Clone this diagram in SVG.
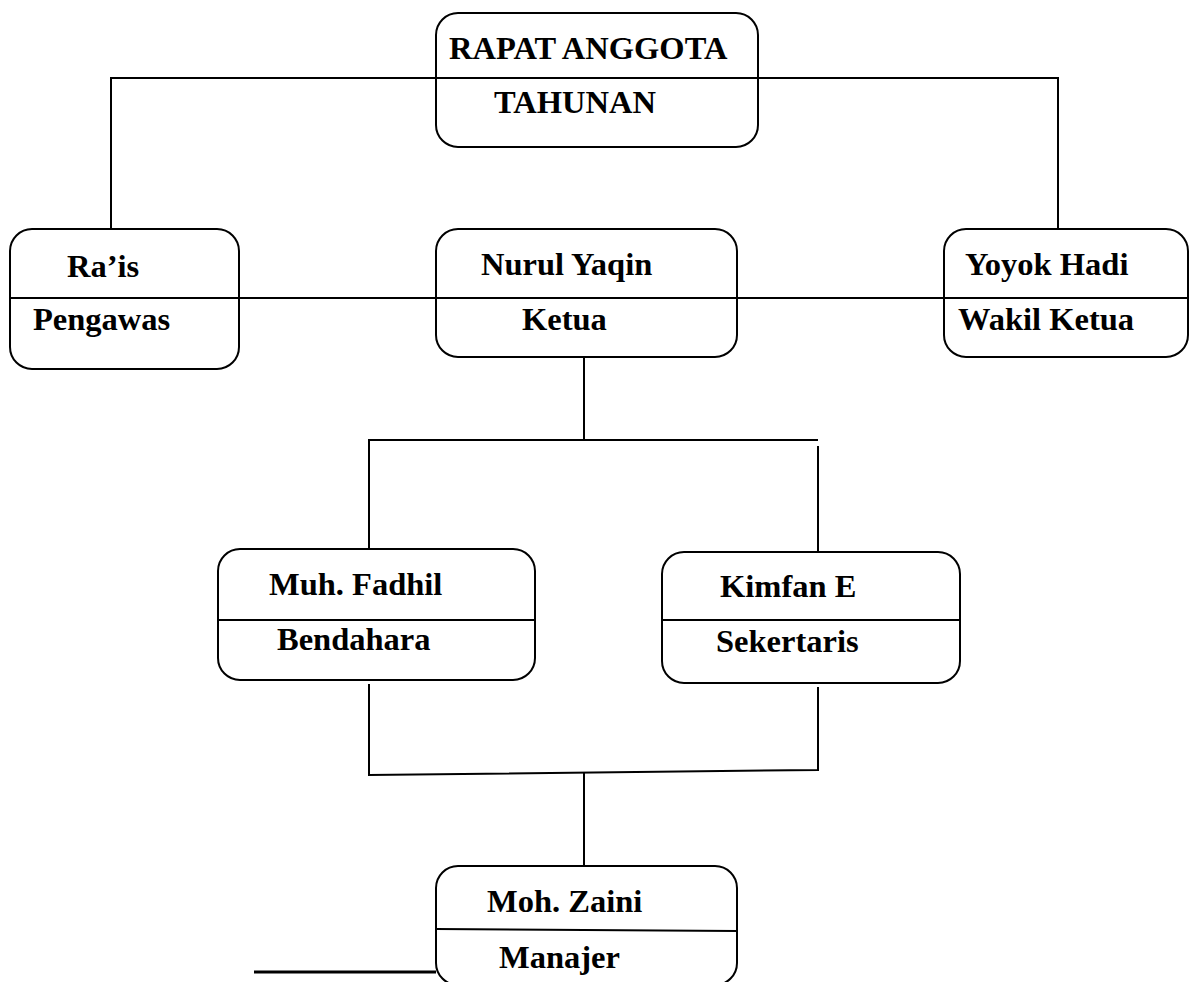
<svg xmlns="http://www.w3.org/2000/svg" width="1189" height="982" viewBox="0 0 1189 982">
<style>
.box{fill:#fff;stroke:#000;stroke-width:2}
.div{stroke:#000;stroke-width:2}
.con{stroke:#000;stroke-width:2;fill:none}
text{font-family:"Liberation Serif","Times New Roman",serif;font-weight:bold;font-size:32.5px;fill:#000}
</style>
<rect width="1189" height="982" fill="#fff"/>
<g id="connectors">
<polyline class="con" points="111,229 111,78 436,78"/>
<polyline class="con" points="758,78 1058,78 1058,229"/>
<line class="con" x1="239" y1="298" x2="436" y2="298"/>
<line class="con" x1="737" y1="298" x2="944" y2="298"/>
<line class="con" x1="584" y1="357" x2="584" y2="440"/>
<polyline class="con" points="369,549 369,440 818,440"/>
<line class="con" x1="818" y1="446" x2="818" y2="552"/>
<polyline class="con" points="369,684 369,775 818,770 818,687"/>
<line class="con" x1="584" y1="772" x2="584" y2="866"/>
<line x1="254" y1="972" x2="436" y2="972" stroke="#000" stroke-width="3"/>
</g>
<g id="rat">
<rect class="box" x="436" y="13" width="322" height="134" rx="22"/>
<line class="div" x1="436" y1="78" x2="758" y2="78"/>
<text x="449" y="59">RAPAT ANGGOTA</text>
<text x="494" y="113">TAHUNAN</text>
</g>
<g id="rais">
<rect class="box" x="10" y="229" width="229" height="140" rx="22"/>
<line class="div" x1="10" y1="298" x2="239" y2="298"/>
<text x="67" y="277">Ra’is</text>
<text x="33" y="330">Pengawas</text>
</g>
<g id="nurul">
<rect class="box" x="436" y="229" width="301" height="128" rx="22"/>
<line class="div" x1="436" y1="298" x2="737" y2="298"/>
<text x="481" y="275">Nurul Yaqin</text>
<text x="522" y="330">Ketua</text>
</g>
<g id="yoyok">
<rect class="box" x="944" y="229" width="244" height="128" rx="22"/>
<line class="div" x1="944" y1="298" x2="1189" y2="298"/>
<text x="965" y="275">Yoyok Hadi</text>
<text x="958" y="330">Wakil Ketua</text>
</g>
<g id="fadhil">
<rect class="box" x="218" y="549" width="317" height="131" rx="22"/>
<line class="div" x1="218" y1="620" x2="535" y2="620"/>
<text x="269" y="595">Muh. Fadhil</text>
<text x="277" y="650">Bendahara</text>
</g>
<g id="kimfan">
<rect class="box" x="662" y="552" width="298" height="131" rx="22"/>
<line class="div" x1="662" y1="620" x2="960" y2="620"/>
<text x="720" y="597">Kimfan E</text>
<text x="716" y="652">Sekertaris</text>
</g>
<g id="zaini">
<rect class="box" x="436" y="866" width="301" height="119" rx="22"/>
<line class="div" x1="436" y1="929" x2="737" y2="931"/>
<text x="487" y="912">Moh. Zaini</text>
<text x="499" y="968">Manajer</text>
</g>
</svg>
